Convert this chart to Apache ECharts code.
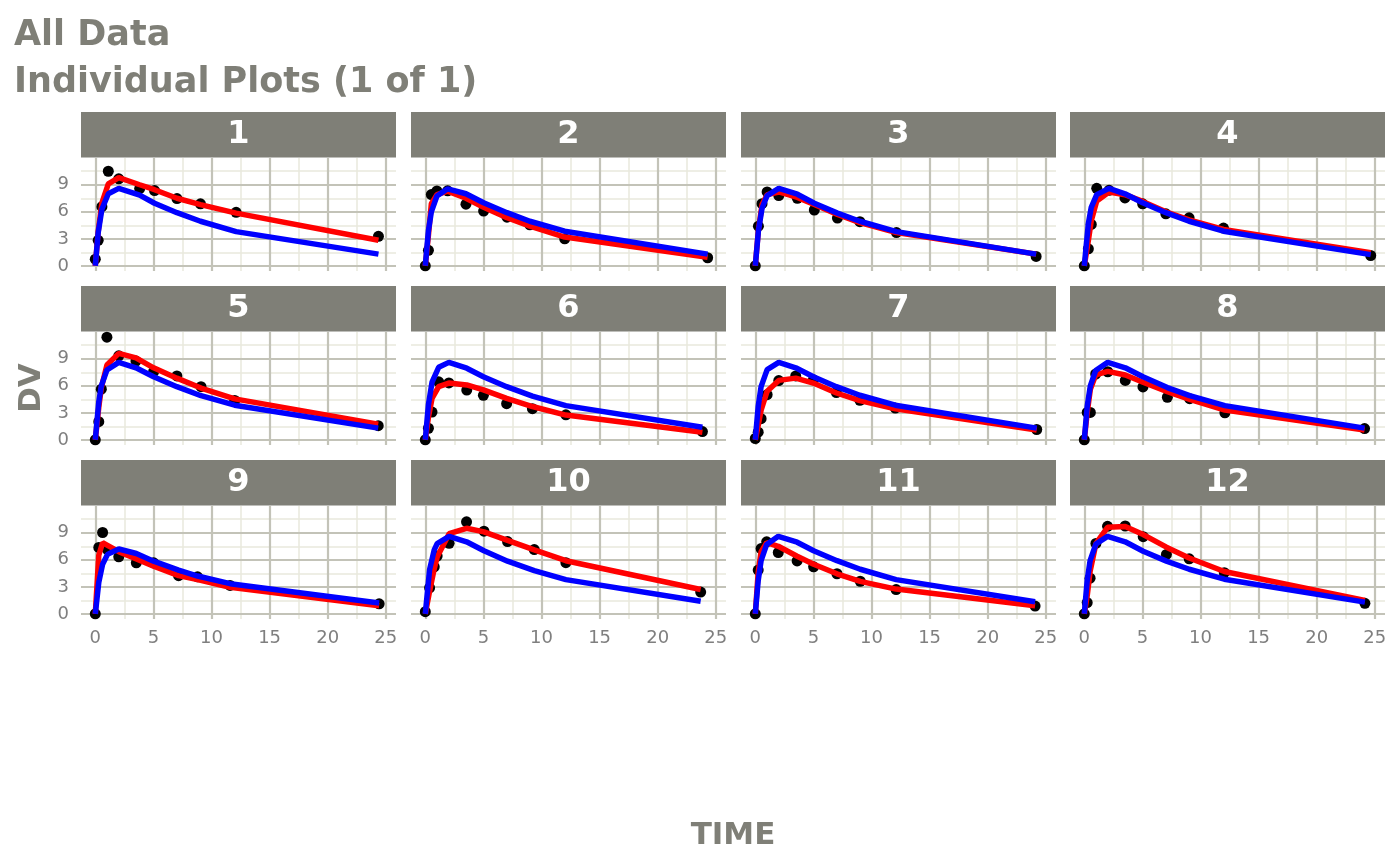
<!DOCTYPE html>
<html>
<head>
<meta charset="utf-8">
<title>Individual Plots</title>
<script src="https://cdn.jsdelivr.net/npm/echarts@6.0.0/dist/echarts.min.js"></script>
<style>
    html, body { margin: 0; padding: 0; background: #ffffff; }
    #chart { width: 1400px; height: 866px; }
</style>
</head>
<body>
<div id="chart"></div>
<script>
// one panel per ID, observations (DV) with individual (red) and population (blue) predictions
var ids = [1, 2, 3, 4, 5, 6, 7, 8, 9, 10, 11, 12];

var times = [
    [0, 0.25, 0.57, 1.12, 2.02, 3.82, 5.10, 7.03, 9.05, 12.12, 24.37],
    [0, 0.27, 0.52, 1.00, 1.92, 3.50, 5.02, 7.03, 9.00, 12.00, 24.30],
    [0, 0.27, 0.58, 1.02, 2.02, 3.62, 5.08, 7.07, 9.00, 12.15, 24.17],
    [0, 0.35, 0.60, 1.07, 2.13, 3.50, 5.02, 7.02, 9.02, 11.98, 24.65],
    [0, 0.30, 0.52, 1.00, 2.02, 3.50, 5.02, 7.02, 9.10, 12.00, 24.35],
    [0, 0.27, 0.58, 1.15, 2.03, 3.57, 5.00, 7.00, 9.22, 12.10, 23.85],
    [0, 0.25, 0.50, 1.02, 2.02, 3.48, 5.00, 6.98, 9.00, 12.05, 24.22],
    [0, 0.25, 0.52, 0.98, 2.02, 3.53, 5.05, 7.15, 9.07, 12.10, 24.12],
    [0, 0.30, 0.63, 1.05, 2.02, 3.53, 5.02, 7.17, 8.80, 11.60, 24.43],
    [0, 0.37, 0.77, 1.02, 2.05, 3.55, 5.05, 7.08, 9.38, 12.10, 23.70],
    [0, 0.25, 0.50, 0.98, 1.98, 3.60, 5.02, 7.03, 9.03, 12.12, 24.08],
    [0, 0.25, 0.50, 1.00, 2.00, 3.52, 5.07, 7.07, 9.03, 12.05, 24.15]
];

var dv = [
    [0.74, 2.84, 6.57, 10.50, 9.66, 8.58, 8.36, 7.47, 6.89, 5.94, 3.28],
    [0.00, 1.72, 7.91, 8.31, 8.33, 6.85, 6.08, 5.40, 4.55, 3.01, 0.90],
    [0.00, 4.40, 6.90, 8.20, 7.80, 7.50, 6.20, 5.30, 4.90, 3.70, 1.05],
    [0.00, 1.89, 4.60, 8.60, 8.38, 7.54, 6.88, 5.78, 5.33, 4.19, 1.15],
    [0.00, 2.02, 5.63, 11.40, 9.33, 8.74, 7.56, 7.09, 5.90, 4.37, 1.57],
    [0.00, 1.29, 3.08, 6.44, 6.32, 5.53, 4.94, 4.02, 3.46, 2.78, 0.92],
    [0.15, 0.85, 2.35, 5.02, 6.58, 7.09, 6.66, 5.25, 4.39, 3.53, 1.15],
    [0.00, 3.05, 3.05, 7.31, 7.56, 6.59, 5.88, 4.73, 4.57, 3.00, 1.25],
    [0.00, 7.37, 9.03, 7.14, 6.33, 5.66, 5.67, 4.24, 4.11, 3.16, 1.12],
    [0.24, 2.89, 5.22, 6.41, 7.83, 10.21, 9.18, 8.02, 7.14, 5.68, 2.42],
    [0.00, 4.86, 7.24, 8.00, 6.81, 5.87, 5.22, 4.45, 3.62, 2.69, 0.86],
    [0.00, 1.25, 3.96, 7.82, 9.72, 9.75, 8.57, 6.59, 6.11, 4.57, 1.17]
];

var ipred = [
    [0, 3.8, 7.0, 9.1, 9.8, 9.0, 8.45, 7.5, 6.8, 5.85, 2.85],
    [0, 3.4, 6.9, 7.9, 8.3, 7.5, 6.5, 5.35, 4.4, 3.2, 0.95],
    [0, 4.0, 6.8, 7.9, 8.2, 7.6, 6.8, 5.7, 4.8, 3.7, 1.3],
    [0, 2.8, 5.0, 7.2, 8.2, 7.9, 7.15, 6.0, 5.1, 4.05, 1.45],
    [0, 3.6, 5.8, 8.3, 9.6, 9.1, 8.0, 6.85, 5.75, 4.55, 1.75],
    [0, 2.5, 4.6, 5.9, 6.3, 6.1, 5.55, 4.6, 3.7, 2.75, 0.85],
    [0, 1.6, 3.3, 5.4, 6.6, 6.85, 6.3, 5.2, 4.35, 3.45, 1.1],
    [0, 3.0, 5.6, 7.2, 7.6, 7.2, 6.4, 5.35, 4.5, 3.3, 1.1],
    [0, 6.5, 7.9, 7.6, 6.9, 6.1, 5.3, 4.25, 3.8, 2.95, 0.9],
    [0, 2.5, 5.0, 6.3, 8.9, 9.5, 9.1, 8.15, 7.1, 5.9, 2.7],
    [0, 4.6, 6.9, 7.9, 7.5, 6.4, 5.5, 4.45, 3.6, 2.75, 0.9],
    [0, 2.0, 4.7, 7.8, 9.6, 9.7, 8.8, 7.4, 6.2, 4.7, 1.5]
];

var pred = [
    [0, 3.7, 6.3, 8.0, 8.6, 7.85, 6.95, 5.9, 4.95, 3.8, 1.3],
    [0, 3.9, 6.0, 7.75, 8.55, 8.0, 7.0, 5.9, 4.95, 3.85, 1.3],
    [0, 3.9, 6.4, 7.8, 8.6, 7.95, 6.95, 5.85, 4.95, 3.8, 1.3],
    [0, 4.7, 6.5, 7.9, 8.6, 8.0, 7.0, 5.9, 4.95, 3.85, 1.25],
    [0, 4.2, 6.0, 7.75, 8.6, 8.0, 7.0, 5.9, 4.9, 3.85, 1.3],
    [0, 3.9, 6.4, 8.05, 8.6, 7.95, 7.0, 5.9, 4.85, 3.8, 1.4],
    [0, 3.7, 5.9, 7.8, 8.6, 8.0, 7.0, 5.9, 4.95, 3.85, 1.3],
    [0, 3.7, 6.0, 7.7, 8.6, 8.0, 7.0, 5.8, 4.9, 3.8, 1.3],
    [0, 3.5, 5.5, 6.6, 7.2, 6.7, 5.85, 4.85, 4.2, 3.35, 1.2],
    [0, 4.9, 7.1, 7.8, 8.6, 8.0, 7.0, 5.85, 4.8, 3.8, 1.4],
    [0, 3.7, 5.9, 7.7, 8.6, 7.95, 7.0, 5.9, 4.95, 3.8, 1.35],
    [0, 3.7, 5.9, 7.75, 8.6, 8.0, 6.95, 5.85, 4.95, 3.85, 1.3]
];

var xTicks = [0, 5, 10, 15, 20, 25];
var xMinor = [2.5, 7.5, 12.5, 17.5, 22.5];
var yTicks = [0, 3, 6, 9];
var yMinor = [1.5, 4.5, 7.5, 10.5];

var colLeft = [81, 411, 741, 1070];
var rowTop = [158, 332, 506];
var panelW = 315;
var panelH = 113;
var stripH = 46;

var gray = '#7f7f77';
var majorColor = '#c3c3b8';
var minorColor = '#e9e9dc';
var font = 'DejaVu Sans';

function pairs(xs, ys) {
    var res = [];
    for (var i = 0; i < xs.length; i++) {
        res.push([xs[i], ys[i]]);
    }
    return res;
}

function gridLines() {
    var res = [];
    var i;
    for (i = 0; i < xMinor.length; i++) {
        res.push({xAxis: xMinor[i], lineStyle: {color: minorColor, width: 1.5, type: 'solid'}});
    }
    for (i = 0; i < yMinor.length; i++) {
        res.push({yAxis: yMinor[i], lineStyle: {color: minorColor, width: 1.5, type: 'solid'}});
    }
    for (i = 0; i < xTicks.length; i++) {
        res.push({xAxis: xTicks[i], lineStyle: {color: majorColor, width: 2.2, type: 'solid'}});
    }
    for (i = 0; i < yTicks.length; i++) {
        res.push({yAxis: yTicks[i], lineStyle: {color: majorColor, width: 2.2, type: 'solid'}});
    }
    return res;
}

var grids = [];
var xAxes = [];
var yAxes = [];
var series = [];
var graphics = [];

for (var k = 0; k < ids.length; k++) {
    var row = Math.floor(k / 4);
    var col = k % 4;
    grids.push({left: colLeft[col], top: rowTop[row], width: panelW, height: panelH});
    xAxes.push({
        gridIndex: k,
        type: 'value',
        min: -1.23,
        max: 25.88,
        axisLine: {show: false},
        splitLine: {show: false},
        axisTick: {show: row === 2, customValues: xTicks, length: 5, lineStyle: {color: '#a8a89e', width: 1.5}},
        axisLabel: {show: row === 2, customValues: xTicks, margin: 10, fontSize: 18, color: '#7f7f7f', fontFamily: font}
    });
    yAxes.push({
        gridIndex: k,
        type: 'value',
        min: -0.57,
        max: 11.97,
        axisLine: {show: false},
        splitLine: {show: false},
        axisTick: {show: col === 0, customValues: yTicks, length: 5, lineStyle: {color: '#a8a89e', width: 1.5}},
        axisLabel: {show: col === 0, customValues: yTicks, margin: 12, fontSize: 18, color: '#7f7f7f', fontFamily: font}
    });
    series.push({
        type: 'line',
        xAxisIndex: k,
        yAxisIndex: k,
        data: [],
        z: 1,
        silent: true,
        markLine: {z: 1, silent: true, symbol: 'none', label: {show: false}, animation: false, data: gridLines()}
    });
    series.push({
        name: 'DV',
        type: 'scatter',
        xAxisIndex: k,
        yAxisIndex: k,
        symbolSize: 11,
        itemStyle: {color: '#000000', opacity: 1},
        z: 10,
        data: pairs(times[k], dv[k])
    });
    series.push({
        name: 'IPRED',
        type: 'line',
        xAxisIndex: k,
        yAxisIndex: k,
        showSymbol: false,
        lineStyle: {color: '#ff0000', width: 5.5},
        z: 11,
        data: pairs(times[k], ipred[k])
    });
    series.push({
        name: 'PRED',
        type: 'line',
        xAxisIndex: k,
        yAxisIndex: k,
        showSymbol: false,
        lineStyle: {color: '#0000ff', width: 5.5},
        z: 12,
        data: pairs(times[k], pred[k])
    });
    graphics.push({
        type: 'rect',
        shape: {x: colLeft[col], y: rowTop[row] - stripH, width: panelW, height: stripH - 0.5},
        style: {fill: gray}
    });
    graphics.push({
        type: 'text',
        x: colLeft[col] + panelW / 2,
        y: rowTop[row] - stripH / 2,
        style: {
            text: String(ids[k]), fill: '#ffffff', font: 'bold 32px "DejaVu Sans"',
            textAlign: 'center', textVerticalAlign: 'middle'
        }
    });
}

graphics.push({
    type: 'text',
    x: 32,
    y: 388,
    rotation: Math.PI / 2,
    style: {text: 'DV', fill: gray, font: 'bold 31px "DejaVu Sans"', textAlign: 'center', textVerticalAlign: 'middle'}
});
graphics.push({
    type: 'text',
    x: 733,
    y: 836,
    style: {text: 'TIME', fill: gray, font: 'bold 31px "DejaVu Sans"', textAlign: 'center', textVerticalAlign: 'middle'}
});

var myChart = echarts.init(document.getElementById('chart'));
myChart.setOption({
    animation: false,
    backgroundColor: '#ffffff',
    title: {
        text: 'All Data\nIndividual Plots (1 of 1)',
        left: 14,
        top: 12,
        padding: 0,
        textStyle: {fontSize: 35, fontWeight: 'bold', color: gray, lineHeight: 47, fontFamily: font}
    },
    grid: grids,
    xAxis: xAxes,
    yAxis: yAxes,
    series: series,
    graphic: graphics
});
</script>
</body>
</html>
